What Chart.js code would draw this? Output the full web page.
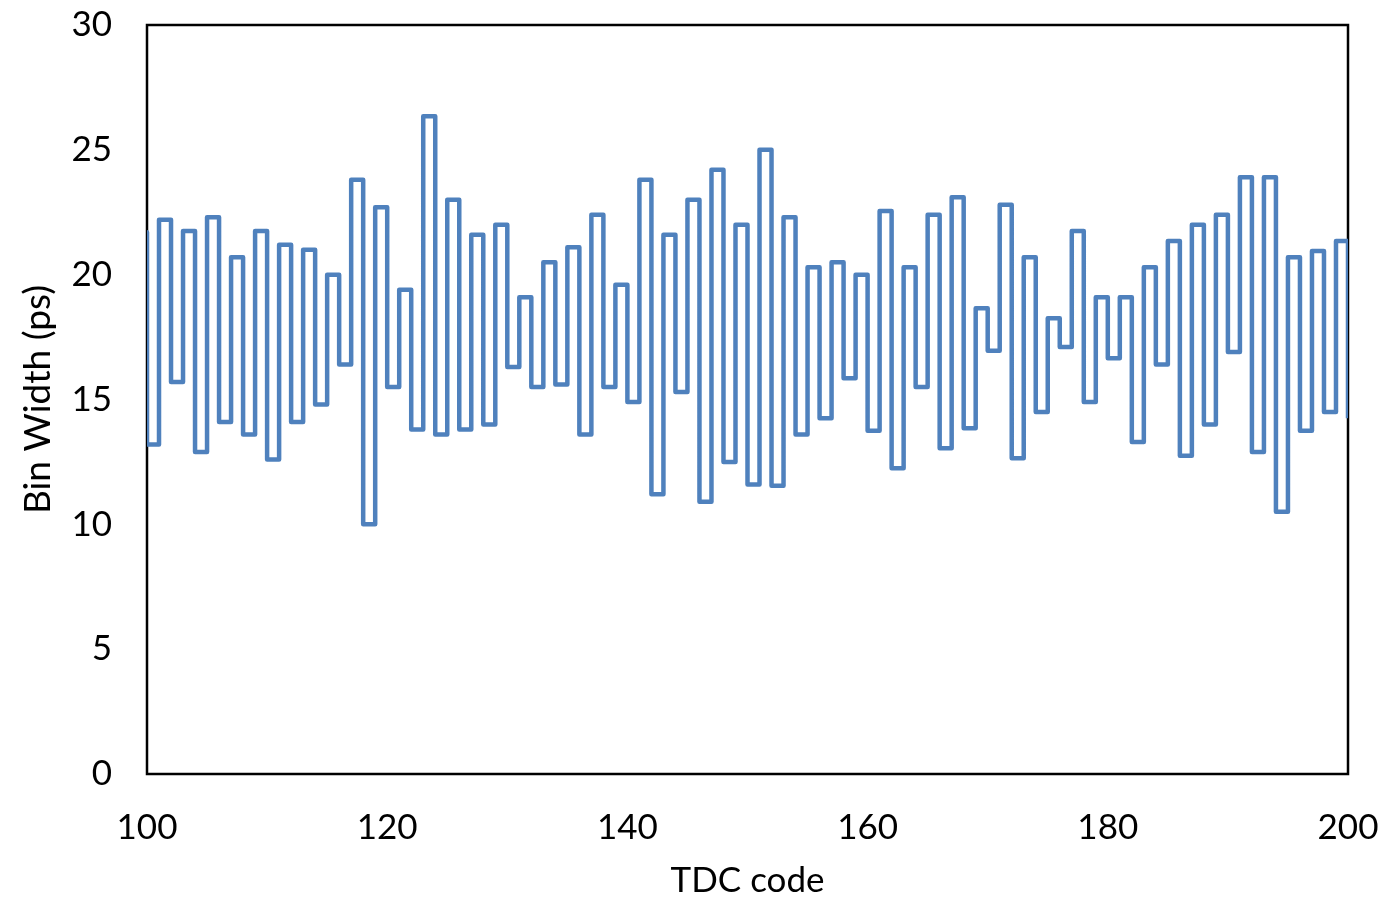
<!DOCTYPE html>
<html>
<head>
<meta charset="utf-8">
<script src="https://cdn.jsdelivr.net/npm/chart.js@4/dist/chart.umd.min.js"></script>
<style>
  html, body { margin: 0; padding: 0; background: #ffffff; }
  #wrap { width: 1383px; height: 898px; }
</style>
</head>
<body>
<div id="wrap"><canvas id="c" width="1383" height="898"></canvas></div>
<script>
// TDC codes (bin start positions); 99 is the lead-in value just left of the axis
const codes = [
  99,100,101,102,103,104,105,106,107,108,109,110,111,112,113,114,115,116,117,118,119,
  120,121,122,123,124,125,126,127,128,129,130,131,132,133,134,135,136,137,138,139,
  140,141,142,143,144,145,146,147,148,149,150,151,152,153,154,155,156,157,158,159,
  160,161,162,163,164,165,166,167,168,169,170,171,172,173,174,175,176,177,178,179,
  180,181,182,183,184,185,186,187,188,189,190,191,192,193,194,195,196,197,198,199,200
];
// Bin width (ps) per code
const binWidths = [
  21.7,13.2,22.2,15.7,21.75,12.9,22.3,14.1,20.7,13.6,21.75,12.6,21.2,14.1,21.0,14.8,20.0,16.4,23.8,10.0,22.7,
  15.5,19.4,13.8,26.35,13.6,23.0,13.8,21.6,14.0,22.0,16.3,19.1,15.5,20.5,15.6,21.1,13.6,22.4,15.5,19.6,
  14.9,23.8,11.2,21.6,15.3,23.0,10.9,24.2,12.5,22.0,11.6,25.0,11.55,22.3,13.6,20.3,14.25,20.5,15.85,20.0,
  13.75,22.55,12.25,20.3,15.5,22.4,13.05,23.1,13.85,18.65,16.95,22.8,12.65,20.7,14.5,18.25,17.1,21.75,14.9,19.1,
  16.65,19.1,13.3,20.3,16.4,21.35,12.75,22.0,14.0,22.4,16.9,23.9,12.9,23.9,10.5,20.7,13.75,20.95,14.5,21.35,14.25
];
const xTickValues = [100,120,140,160,180,200];
const yTickValues = [0,5,10,15,20,25,30];
const xTitle = 'TDC code';
const yTitle = 'Bin Width (ps)';

const points = codes.map((c, i) => ({ x: c, y: binWidths[i] }));

const framePlugin = {
  id: 'frame',
  beforeDatasetsDraw(chart) {
    const { ctx, chartArea: a } = chart;
    ctx.save();
    ctx.strokeStyle = '#000000';
    ctx.lineWidth = 2.5;
    ctx.strokeRect(a.left, a.top, a.right - a.left, a.bottom - a.top);
    ctx.restore();
  }
};

const tickFont = { family: 'Lato', size: 35 };

new Chart(document.getElementById('c'), {
  type: 'line',
  data: {
    datasets: [{
      data: points,
      borderColor: '#4f81bd',
      borderWidth: 4.5,
      borderJoinStyle: 'round',
      stepped: 'before',
      pointRadius: 0,
      tension: 0,
      fill: false
    }]
  },
  options: {
    responsive: false,
    animation: false,
    devicePixelRatio: 1,
    layout: { padding: { left: 0, right: 35, top: 25, bottom: 0 } },
    plugins: { legend: { display: false }, tooltip: { enabled: false } },
    scales: {
      x: {
        type: 'linear',
        min: 100, max: 200,
        afterBuildTicks: (s) => { s.ticks = xTickValues.map(v => ({ value: v })); },
        afterFit: (s) => { s.height = 124; s.paddingLeft = 0; s.paddingRight = 0; },
        grid: { display: false, drawTicks: false },
        border: { display: false },
        ticks: { color: '#000000', font: tickFont, padding: 33, maxRotation: 0, autoSkip: false },
        title: { display: true, text: xTitle, color: '#000000', font: { family: 'Lato', size: 35, lineHeight: 1 }, padding: { top: 0, bottom: 0 } }
      },
      y: {
        type: 'linear',
        min: 0, max: 30,
        afterBuildTicks: (s) => { s.ticks = yTickValues.map(v => ({ value: v })); },
        afterFit: (s) => { s.width = 147; s.paddingTop = 0; s.paddingBottom = 0; },
        grid: { display: false, drawTicks: false },
        border: { display: false },
        ticks: { color: '#000000', font: tickFont, padding: 35, autoSkip: false },
        title: { display: true, text: yTitle, color: '#000000', font: { family: 'Lato', size: 37, lineHeight: 1 }, padding: { top: 20, bottom: 0 } }
      }
    }
  },
  plugins: [framePlugin]
});
</script>
</body>
</html>
